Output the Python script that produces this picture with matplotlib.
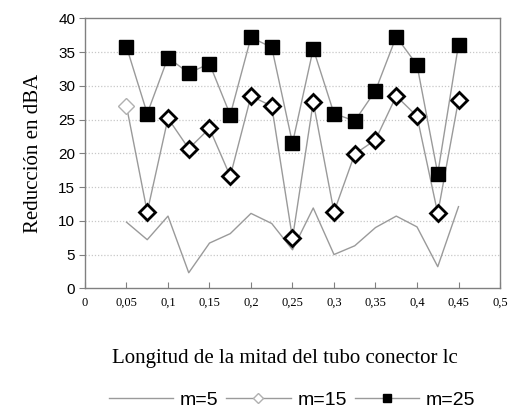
import matplotlib
import matplotlib.pyplot as plt

matplotlib.use("Agg")

# half-length of the connector tube (m)
lc = [0.05, 0.075, 0.1, 0.125, 0.15, 0.175, 0.2, 0.225, 0.25,
      0.275, 0.3, 0.325, 0.35, 0.375, 0.4, 0.425, 0.45]

# noise reduction (dBA) for each m
red_m5 = [9.8, 7.2, 10.7, 2.3, 6.7, 8.1, 11.1, 9.6, 5.7,
          11.9, 5.0, 6.3, 9.0, 10.7, 9.1, 3.2, 12.1]
red_m15 = [27.0, 11.3, 25.2, 20.7, 23.7, 16.6, 28.5, 27.0, 7.4,
           27.6, 11.3, 19.9, 22.0, 28.5, 25.5, 11.1, 27.9]
red_m25 = [35.8, 25.9, 34.2, 31.9, 33.3, 25.7, 37.2, 35.7, 21.5,
           35.5, 25.9, 24.8, 29.3, 37.3, 33.1, 17.0, 36.1]

xticks = [0, 0.05, 0.1, 0.15, 0.2, 0.25, 0.3, 0.35, 0.4, 0.45, 0.5]
xtick_labels = ["0", "0,05", "0,1", "0,15", "0,2", "0,25", "0,3",
                "0,35", "0,4", "0,45", "0,5"]
yticks = [0, 5, 10, 15, 20, 25, 30, 35, 40]

LINE = "#9a9a9a"
SERIF = "Liberation Serif"
SANS = "Liberation Sans"

fig = plt.figure(figsize=(5.16, 4.19), dpi=100)
ax = fig.add_axes([0.1647, 0.312, 0.8043, 0.644])

for y in yticks[1:-1]:
    ax.axhline(y, color="#c8c8c8", linewidth=0.9, linestyle=(0, (1, 1.5)), zorder=0)

ax.plot(lc, red_m5, color=LINE, linewidth=1.0, label="m=5", zorder=2)

ax.plot(lc, red_m15, color=LINE, linewidth=1.0, marker="D", markersize=8,
        markerfacecolor="white", markeredgecolor="#b0b0b0", markeredgewidth=1.0,
        label="m=15", zorder=3)
# most points of m=15 are drawn with a black outline
ax.plot(lc[1:], red_m15[1:], linestyle="none", marker="D", markersize=8.3,
        markerfacecolor="white", markeredgecolor="black", markeredgewidth=2.0,
        zorder=4)

ax.plot(lc, red_m25, color=LINE, linewidth=1.0, marker="s", markersize=9.5,
        markerfacecolor="black", markeredgecolor="black", label="m=25", zorder=5)

ax.set_xlim(0, 0.5)
ax.set_ylim(0, 40)
ax.set_xticks(xticks)
ax.set_xticklabels(xtick_labels, fontfamily=SERIF, fontsize=9)
ax.set_yticks(yticks)
ax.set_yticklabels([str(v) for v in yticks], fontfamily=SANS, fontsize=11)
ax.tick_params(axis="x", direction="in", length=4, color="#808080", pad=6)
ax.tick_params(axis="y", direction="out", length=4, color="#808080", pad=3)
for s in ax.spines.values():
    s.set_color("#808080")
    s.set_linewidth(1.0)

ax.set_ylabel("Reducción en dBA", fontfamily=SERIF, fontsize=15, labelpad=11)
fig.text(0.552, 0.145, "Longitud de la mitad del tubo conector lc",
         fontfamily=SERIF, fontsize=15, ha="center", va="center")

h, l = ax.get_legend_handles_labels()
fig.legend(h, l, loc="center", bbox_to_anchor=(0.566, 0.045), ncol=3, frameon=False,
           prop={"family": SANS, "size": 14}, handlelength=3.3, handletextpad=0.35,
           columnspacing=0.4, markerscale=0.6)

fig.savefig("out.png", dpi=100, facecolor="white")
